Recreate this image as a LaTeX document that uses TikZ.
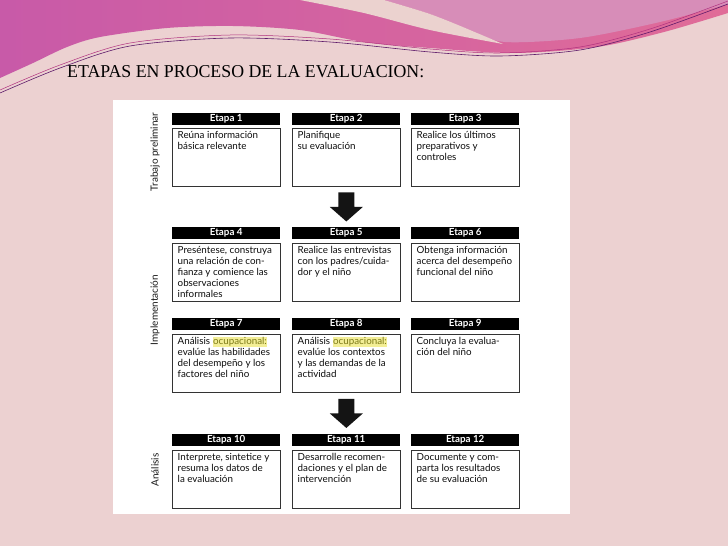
\documentclass[tikz,border=0pt]{standalone}
\usepackage{fontspec}
\usepackage{graphicx}
\setmainfont{Liberation Serif}
\newfontfamily\gill{Lato}
\usetikzlibrary{calc}
\definecolor{bgpink}{HTML}{ECD1D1}
\definecolor{magL}{HTML}{C85AA8}
\definecolor{magR}{HTML}{E06C98}
\definecolor{mauve}{HTML}{D78DB8}
\definecolor{cream}{HTML}{EBD2CF}
\definecolor{lineP}{HTML}{5E1B6A}
\definecolor{lineM}{HTML}{B0307E}
\definecolor{hlyellow}{HTML}{F3EE96}
\definecolor{hltext}{HTML}{7C7A18}
\newcommand\hlt[1]{{\setlength{\fboxsep}{0.5pt}\colorbox{hlyellow}{\textcolor{hltext}{#1}}}}
\tikzset{
  hdr/.style={fill=black, text=white, minimum width=108pt, minimum height=12pt, inner sep=0pt,
    font=\gill\bfseries\fontsize{9.8}{9.8}\selectfont},
  bx/.style={draw=black!80, line width=0.9pt, fill=white, minimum width=108pt, minimum height=58pt, inner sep=0pt},
  txt/.style={align=left, inner sep=0pt, text=black!95, font=\gill\fontsize{9.8}{11}\selectfont},
  side/.style={inner sep=0pt, text=black!90, font=\gill\fontsize{10}{10}\selectfont, rotate=90},
  blockarrow/.style={fill=black!92}
}
\newcommand\stage[6]{%
  \node[hdr, anchor=north west] (h#1) at (#2,#3) {Etapa #5};
  \node[bx, anchor=north west] (b#1) at (#2,#4) {};
  \node[txt, anchor=north west] (t#1) at ($(b#1.north west)+(5.5,3)$) {#6};
}
\newcommand\blockarr[1]{%
  \fill[blockarrow] ($(#1)+(-8,-14.5)$) -- ($(#1)+(8,-14.5)$) -- ($(#1)+(8,0)$) -- ($(#1)+(16.5,0)$)
    -- ($(#1)+(0,14.5)$) -- ($(#1)+(-16.5,0)$) -- ($(#1)+(-8,0)$) -- cycle;
}
\begin{document}
\begin{tikzpicture}[x=1pt,y=-1pt]
\useasboundingbox (0,0) rectangle (728,546);
\fill[bgpink] (0,0) rectangle (728,546);
% top band
\shade[left color=magL, right color=magR] (0,0) -- (728,0) -- plot[smooth] coordinates {(728,13) (664,32) (597,47) (514,53) (430,48) (364,42) (300,30) (233,26) (167,28) (100,37) (67,47) (33,63) (0,78)} -- cycle;
\fill[mauve] (384,0) -- (728,0) -- plot[smooth] coordinates {(728,4) (660,22) (580,38) (505,42) (470,30) (430,14) (384,0)} -- cycle;
\fill[cream] plot[smooth] coordinates {(300,0) (364,13) (430,30) (503,44)} -- plot[smooth] coordinates {(470,30) (430,14) (384,0)} -- cycle;
\draw[lineP, line width=0.6pt] plot[smooth] coordinates {(0,93) (60,68) (130,46) (230,38) (330,42) (430,52) (500,56) (580,50) (650,32) (728,4)};
\draw[lineM, line width=0.5pt] plot[smooth] coordinates {(0,90) (60,65) (130,43) (230,35) (330,39) (430,49) (500,53) (580,47) (650,29) (728,1)};
% title
\node[anchor=base west, inner sep=0pt] (title) at (67,77) {\resizebox{357pt}{12pt}{ETAPAS EN PROCESO DE LA EVALUACION:}};
% panel
\node[fill=white, minimum width=457pt, minimum height=414pt, anchor=north west, inner sep=0pt] (panel) at (113,100) {};
% side labels
\node[side] (s1) at (155,152) {Trabajo preliminar};
\node[side] (s2) at (155,310) {Implementación};
\node[side] (s3) at (155,470) {Análisis};
% stages
\stage{1}{172}{113}{128}{1}{Reúna información\\básica relevante}
\stage{2}{292}{113}{128}{2}{Planifique\\su evaluación}
\stage{3}{411}{113}{128}{3}{Realice los últimos\\preparativos y\\controles}
\stage{4}{172}{227}{243}{4}{Preséntese, construya\\una relación de con-\\fianza y comience las\\observaciones\\informales}
\stage{5}{292}{227}{243}{5}{Realice las entrevistas\\con los padres/cuida-\\dor y el niño}
\stage{6}{411}{227}{243}{6}{Obtenga información\\acerca del desempeño\\funcional del niño}
\stage{7}{172}{318}{334}{7}{Análisis \hlt{ocupacional:}\\evalúe las habilidades\\del desempeño y los\\factores del niño}
\stage{8}{292}{318}{334}{8}{Análisis \hlt{ocupacional:}\\evalúe los contextos\\y las demandas de la\\actividad}
\stage{9}{411}{318}{334}{9}{Concluya la evalua-\\ción del niño}
\stage{10}{172}{434}{450}{10}{Interprete, sintetice y\\resuma los datos de\\la evaluación}
\stage{11}{292}{434}{450}{11}{Desarrolle recomen-\\daciones y el plan de\\intervención}
\stage{12}{411}{434}{450}{12}{Documente y com-\\parta los resultados\\de su evaluación}
% arrows
\coordinate (a1) at ($(b2.south)!0.5!(h5.north)$);
\coordinate (a2) at ($(b8.south)!0.5!(h11.north)$);
\blockarr{a1}
\blockarr{a2}
\end{tikzpicture}
\end{document}
